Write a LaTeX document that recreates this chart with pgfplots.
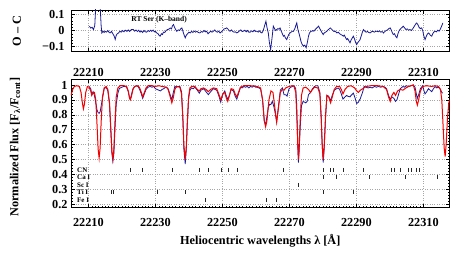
\documentclass[border=0pt]{standalone}
\usepackage{fontspec}
\setmainfont{Liberation Serif}
\usepackage{pgfplots}
\pgfplotsset{compat=1.18}
\definecolor{obsblue}{RGB}{25,25,150}
\definecolor{modred}{RGB}{245,0,0}
\pgfplotsset{
  common/.style={
    scale only axis, width=378.5bp,
    xmin=22204.8, xmax=22317.8,
    xtick={22210,22230,22250,22270,22290,22310},
    scaled x ticks=false,
    xticklabels={22210,22230,22250,22270,22290,22310},
    minor x tick num=19,
    tick align=inside,
    grid=major,
    major grid style={gray!70, dotted, line width=0.5pt},
    tick style={black, line width=0.5pt},
    major tick length=4bp, minor tick length=2bp,
    axis line style={line width=0.8pt},
    ticklabel style={font=\fontsize{12.3}{14}\selectfont\bfseries},
    label style={font=\fontsize{12.3}{14}\selectfont\bfseries},
    /pgf/number format/assume math mode=true,
    /pgf/number format/1000 sep={},
  },
  idmark/.style={only marks, mark=|, mark size=2bp, black!85, mark options={line width=0.4pt}},
}
\begin{document}
\begin{tikzpicture}[x=1bp,y=1bp]
% ---------------- bottom panel ----------------
\begin{axis}[common, at={(0,0)}, anchor=south west, height=128.7bp,
  ymin=0.177, ymax=1.04,
  ytick={0.2,0.3,0.4,0.5,0.6,0.7,0.8,0.9,1},
  minor y tick num=4,
  xticklabel style={yshift=-7bp},
  xlabel={Heliocentric wavelengths λ [Å]},
  ylabel={Normalized Flux [F\textsubscript{λ}/F\textsubscript{cont}]},
  xlabel style={at={(axis description cs:0.5,-0.255)}, anchor=center},
  ylabel style={at={(axis description cs:-0.148,0.471)}, anchor=center},
]
% observed spectrum
\addplot[obsblue, line width=0.8pt] coordinates {
(22210.2,0.99) (22210.7,0.975) (22211.0,0.935) (22211.4,0.955) (22211.8,0.93)
(22212.2,0.88) (22212.6,0.83) (22212.9,0.815) (22213.2,0.81) (22213.5,0.82)
(22213.8,0.86) (22214.2,0.91) (22214.7,0.975) (22215.3,0.985) (22215.8,0.96)
(22216.3,0.87) (22216.7,0.69) (22217.0,0.545) (22217.3,0.49) (22217.6,0.54)
(22217.9,0.69) (22218.3,0.87) (22218.8,0.945) (22219.2,0.975) (22219.5,0.98)
(22220.0,0.985) (22220.5,0.99) (22221.0,0.99) (22221.4,0.985) (22221.9,0.955)
(22222.3,0.91) (22222.5,0.905) (22222.8,0.93) (22223.3,0.975) (22223.8,0.99)
(22224.3,0.995) (22224.8,0.99) (22225.3,0.97) (22225.8,0.94) (22226.2,0.91)
(22226.7,0.94) (22227.2,0.97) (22227.8,0.985) (22228.4,0.99) (22229.0,0.985)
(22229.5,0.99) (22230.0,0.975) (22230.5,0.97) (22231.0,0.965) (22231.5,0.96)
(22232.0,0.97) (22232.5,0.975) (22233.0,0.985) (22233.3,0.985) (22233.8,0.975)
(22234.3,0.94) (22234.9,0.90) (22235.3,0.945) (22235.8,0.99) (22236.3,0.985)
(22236.8,0.99) (22237.3,0.99) (22237.8,0.955) (22238.2,0.77) (22238.5,0.57)
(22238.9,0.47) (22239.2,0.56) (22239.5,0.72) (22239.9,0.905) (22240.3,0.965)
(22240.8,0.98) (22241.3,0.975) (22241.8,0.985) (22242.5,0.965) (22243.1,0.945)
(22243.6,0.965) (22244.0,0.97) (22244.4,0.975) (22245.1,0.955) (22245.8,0.935)
(22246.5,0.955) (22246.9,0.965) (22247.3,0.975) (22247.8,0.97) (22248.3,0.965)
(22248.9,0.93) (22249.5,0.885) (22250.1,0.935) (22250.7,0.96) (22251.2,0.925)
(22251.6,0.905) (22252.1,0.93) (22252.6,0.97) (22253.3,0.96) (22253.8,0.925)
(22254.3,0.905) (22254.8,0.94) (22255.4,0.985) (22255.9,0.98) (22256.4,0.99)
(22256.9,0.985) (22257.4,0.99) (22257.9,0.98) (22258.4,0.99) (22258.9,0.985)
(22259.4,0.995) (22259.9,0.985) (22260.4,0.985) (22260.9,0.98) (22261.4,0.975)
(22262.0,0.90) (22262.5,0.76) (22262.9,0.73) (22263.3,0.79) (22263.7,0.85)
(22264.1,0.87) (22264.5,0.87) (22264.9,0.89) (22265.3,0.86) (22265.7,0.82)
(22266.2,0.755) (22266.7,0.85) (22267.3,0.965) (22267.9,0.98) (22268.4,0.935)
(22268.9,0.935) (22269.3,0.925) (22269.9,0.975) (22270.4,0.985) (22270.9,0.99)
(22271.4,0.995) (22271.9,0.975) (22272.2,0.86) (22272.4,0.66) (22272.7,0.48)
(22272.9,0.55) (22273.2,0.70) (22273.6,0.86) (22274.1,0.89) (22274.5,0.885)
(22274.9,0.88) (22275.3,0.89) (22275.7,0.935) (22276.3,0.95) (22276.9,0.975)
(22277.5,0.99) (22278.0,0.995) (22278.5,0.995) (22279.1,0.95) (22279.5,0.78)
(22279.8,0.59) (22280.1,0.48) (22280.4,0.575) (22280.8,0.78) (22281.2,0.93)
(22281.7,0.925) (22282.3,0.895) (22282.8,0.93) (22283.4,0.965) (22284.1,0.975)
(22284.6,0.98) (22285.0,0.97) (22285.5,0.94) (22286.0,0.905) (22286.6,0.92)
(22287.1,0.93) (22287.4,0.925) (22288.1,0.92) (22288.4,0.93) (22289.1,0.945)
(22289.5,0.92) (22290.1,0.875) (22290.6,0.885) (22291.2,0.91) (22291.9,0.955)
(22292.3,0.99) (22292.9,0.985) (22293.5,0.98) (22294.1,0.985) (22294.7,0.98)
(22295.4,0.99) (22296.0,0.985) (22296.6,0.99) (22297.3,0.985) (22298.0,0.99)
(22298.5,0.985) (22299.0,0.975) (22299.6,0.93) (22300.1,0.905) (22300.6,0.92)
(22301.2,0.91) (22301.7,0.89) (22302.1,0.90) (22302.5,0.93) (22303.1,0.975)
(22303.9,0.99) (22304.4,0.985) (22304.8,0.995) (22305.6,0.99) (22306.3,0.995)
(22307.0,1.0) (22307.5,0.985) (22307.9,0.94) (22308.2,0.91) (22308.6,0.935)
(22309.1,0.975) (22309.8,0.995) (22310.2,0.96) (22310.5,0.94) (22311.0,0.955)
(22311.5,0.975) (22312.0,0.965) (22312.5,0.955) (22313.0,0.975) (22313.5,0.99)
(22314.0,0.98) (22314.5,0.985) (22315.1,0.97) (22315.5,0.95) (22315.8,0.945)
};
% model spectrum
\addplot[modred, line width=1pt] coordinates {
(22204.8,0.93) (22205.3,0.97) (22205.8,0.99) (22206.5,0.995) (22207.3,0.99)
(22207.8,0.95) (22208.2,0.88) (22208.5,0.84) (22208.8,0.87) (22209.2,0.95)
(22209.7,0.99) (22210.2,0.985) (22210.7,0.96) (22211.0,0.93) (22211.4,0.95)
(22211.8,0.95) (22212.2,0.90) (22212.6,0.72) (22212.9,0.57) (22213.2,0.51)
(22213.5,0.58) (22213.8,0.75) (22214.2,0.92) (22214.7,0.98) (22215.3,0.99)
(22215.8,0.97) (22216.3,0.88) (22216.7,0.70) (22217.0,0.56) (22217.3,0.50)
(22217.6,0.57) (22217.9,0.74) (22218.3,0.92) (22218.8,0.98) (22219.5,0.995)
(22220.5,0.995) (22221.4,0.99) (22221.9,0.96) (22222.3,0.91) (22222.5,0.90)
(22222.8,0.92) (22223.3,0.97) (22223.8,0.99) (22224.8,0.995) (22225.3,0.98)
(22225.8,0.95) (22226.2,0.92) (22226.7,0.95) (22227.2,0.98) (22227.8,0.995)
(22229.0,0.995) (22230.0,0.99) (22231.0,0.995) (22232.0,0.99) (22233.3,0.985)
(22233.8,0.97) (22234.3,0.93) (22234.9,0.88) (22235.3,0.91) (22235.8,0.97)
(22236.3,0.99) (22237.3,0.985) (22237.8,0.94) (22238.2,0.78) (22238.5,0.60)
(22238.9,0.50) (22239.2,0.58) (22239.5,0.74) (22239.9,0.92) (22240.3,0.98)
(22240.8,0.99) (22241.8,0.99) (22242.5,0.97) (22243.1,0.96) (22243.6,0.975)
(22244.4,0.98) (22245.1,0.97) (22245.8,0.955) (22246.5,0.97) (22247.3,0.98)
(22248.3,0.975) (22248.9,0.94) (22249.5,0.90) (22250.1,0.94) (22250.7,0.95)
(22251.2,0.91) (22251.6,0.89) (22252.1,0.93) (22252.6,0.975) (22253.3,0.97)
(22253.8,0.94) (22254.3,0.92) (22254.8,0.95) (22255.4,0.985) (22256.4,0.995)
(22258.4,0.995) (22260.4,0.99) (22261.4,0.98) (22262.0,0.90) (22262.5,0.76)
(22262.9,0.72) (22263.3,0.76) (22263.9,0.90) (22264.5,0.96) (22265.1,0.95)
(22265.7,0.84) (22266.2,0.75) (22266.7,0.84) (22267.3,0.95) (22267.9,0.97)
(22268.4,0.965) (22268.9,0.98) (22269.9,0.99) (22270.9,0.995) (22271.4,0.99)
(22271.9,0.95) (22272.3,0.75) (22272.5,0.60) (22272.7,0.50) (22272.9,0.58)
(22273.2,0.75) (22273.6,0.93) (22274.1,0.98) (22274.9,0.985) (22275.7,0.97)
(22276.3,0.95) (22276.9,0.97) (22277.5,0.985) (22278.5,0.98) (22279.1,0.94)
(22279.5,0.78) (22279.8,0.60) (22280.1,0.50) (22280.4,0.60) (22280.8,0.80)
(22281.2,0.93) (22281.7,0.92) (22282.3,0.88) (22282.8,0.92) (22283.4,0.97)
(22284.1,0.99) (22285.0,0.99) (22285.5,0.97) (22286.0,0.94) (22286.6,0.97)
(22287.4,0.99) (22288.4,0.995) (22289.5,0.98) (22290.1,0.96) (22290.6,0.95)
(22291.2,0.965) (22291.9,0.975) (22292.9,0.99) (22294.4,0.995) (22296.4,0.995)
(22298.0,0.99) (22299.0,0.97) (22299.6,0.92) (22300.1,0.89) (22300.6,0.93)
(22301.2,0.95) (22301.7,0.93) (22302.3,0.96) (22303.1,0.97) (22303.9,0.965)
(22304.8,0.98) (22305.6,0.99) (22306.3,0.995) (22307.0,1.00) (22307.5,0.96)
(22307.9,0.89) (22308.2,0.865) (22308.6,0.90) (22309.1,0.96) (22309.8,0.99)
(22311.0,0.995) (22312.5,0.99) (22313.5,0.995) (22314.5,0.99) (22315.1,0.97)
(22315.5,0.90) (22315.9,0.72) (22316.2,0.58) (22316.5,0.52) (22316.8,0.60)
(22317.2,0.78) (22317.6,0.88) (22317.8,0.90)
};
% line identifications
\addplot[idmark] coordinates {
(22222.45,0.43) (22226.2,0.43) (22234.9,0.43) (22243.0,0.43) (22245.8,0.43)
(22249.5,0.43) (22251.7,0.43) (22254.3,0.43) (22268.2,0.43) (22280.0,0.43)
(22282.2,0.43) (22283.0,0.43) (22286.1,0.43) (22291.9,0.43) (22300.3,0.43)
(22301.3,0.43) (22303.1,0.43) (22305.5,0.43) (22306.5,0.43) (22308.0,0.43)
(22308.7,0.43)
};
\addplot[idmark] coordinates {
(22280.1,0.38) (22283.9,0.38) (22293.9,0.38) (22304.5,0.38) (22314.2,0.38)
};
\addplot[idmark] coordinates {
(22272.7,0.33)
};
\addplot[idmark] coordinates {
(22216.8,0.28) (22217.3,0.28) (22230.4,0.28) (22238.9,0.28) (22280.1,0.28)
(22289.1,0.28)
};
\addplot[idmark] coordinates {
(22245.0,0.23) (22263.2,0.23) (22266.2,0.23)
};
\begin{scope}[every node/.style={anchor=west, inner sep=0pt, font=\fontsize{7}{8}\selectfont\bfseries}]
\node at (axis cs:22206.6,0.43) {CN};
\node at (axis cs:22206.6,0.38) {Ca I};
\node at (axis cs:22206.6,0.33) {Sc I};
\node at (axis cs:22206.6,0.28) {Ti I};
\node at (axis cs:22206.6,0.23) {Fe I};
\end{scope}
\end{axis}
% ---------------- top panel ----------------
\begin{axis}[common, at={(0,156bp)}, anchor=south west, height=41.7bp,
  ymin=-0.131, ymax=0.127,
  ytick={-0.1,0,0.1}, yticklabels={−0.1,0,0.1},
  minor y tick num=4,
  xticklabel style={yshift=-13bp},
  yticklabel style={xshift=-3bp},
  ylabel={O – C},
  ylabel style={at={(axis description cs:-0.143,0.5)}, anchor=center},
]
\addplot[obsblue, line width=0.8pt] coordinates {
(22210.3,0.027) (22210.7,0.015) (22211.1,0.020) (22211.5,0.006) (22211.9,0.03)
(22212.3,0.2) (22212.9,0.3) (22213.5,0.15) (22213.8,0.03) (22214.0,-0.015)
(22214.4,-0.005) (22214.7,-0.012) (22215.0,-0.005) (22215.4,-0.01) (22215.8,0.0)
(22216.2,-0.012) (22216.5,-0.015) (22216.9,-0.005) (22217.3,-0.02) (22217.7,-0.035)
(22218.0,-0.055) (22218.3,-0.03) (22218.6,-0.02) (22219.0,-0.015) (22219.4,-0.005)
(22219.8,-0.01) (22220.2,0.0) (22220.6,-0.008) (22221.0,0.002) (22221.5,-0.005)
(22221.9,0.004) (22222.3,-0.006) (22222.8,0.006) (22223.4,0.006) (22223.8,-0.004)
(22224.2,0.003) (22224.6,-0.006) (22225.0,0.002) (22225.4,-0.01) (22225.8,-0.003)
(22226.2,-0.012) (22226.6,0.0) (22227.0,-0.008) (22227.4,-0.01) (22227.8,0.0)
(22228.2,-0.006) (22228.6,0.002) (22228.9,-0.005) (22229.3,0.003) (22229.7,-0.008)
(22230.0,-0.005) (22230.4,-0.015) (22230.8,-0.02) (22231.1,-0.03) (22231.4,-0.035)
(22231.8,-0.02) (22232.1,-0.025) (22232.4,-0.01) (22232.8,-0.012) (22233.2,0.0)
(22233.6,0.006) (22234.0,0.008) (22234.4,0.016) (22234.8,0.01) (22235.1,0.03)
(22235.4,0.037) (22235.7,0.02) (22236.0,0.008) (22236.4,-0.005) (22236.8,0.004)
(22237.2,0.0) (22237.6,0.012) (22237.9,0.016) (22238.3,-0.01) (22238.6,-0.03)
(22238.9,-0.045) (22239.2,-0.03) (22239.6,-0.02) (22240.0,-0.01) (22240.4,-0.015)
(22240.8,-0.005) (22241.2,-0.012) (22241.6,-0.004) (22242.0,-0.01) (22242.4,-0.005)
(22242.8,-0.012) (22243.3,-0.015) (22243.7,-0.006) (22244.1,-0.01) (22244.5,0.0)
(22244.9,-0.008) (22245.3,-0.005) (22245.7,-0.02) (22246.1,-0.012) (22246.5,-0.004)
(22246.9,-0.01) (22247.3,-0.005) (22247.7,0.004) (22248.1,-0.006) (22248.5,-0.01)
(22248.9,-0.004) (22249.3,-0.015) (22249.7,-0.008) (22250.1,0.0) (22250.5,0.01)
(22250.9,0.012) (22251.3,0.016) (22251.7,0.008) (22252.0,-0.002) (22252.3,-0.004)
(22252.7,0.004) (22253.1,-0.006) (22253.5,-0.01) (22253.9,-0.008) (22254.3,-0.015)
(22254.7,-0.01) (22255.1,-0.002) (22255.5,0.004) (22255.9,-0.006) (22256.3,-0.004)
(22256.7,0.002) (22257.1,-0.008) (22257.5,0.0) (22257.9,-0.01) (22258.3,-0.01)
(22258.7,-0.002) (22259.1,-0.008) (22259.5,0.002) (22259.9,-0.006) (22260.3,-0.004)
(22260.7,-0.01) (22261.1,-0.002) (22261.5,-0.012) (22261.8,-0.015) (22262.2,0.0)
(22262.6,0.03) (22263.0,0.058) (22263.3,0.02) (22263.7,-0.015) (22264.0,-0.07)
(22264.4,-0.118) (22264.8,-0.05) (22265.2,0.027) (22265.6,0.01) (22265.9,0.0)
(22266.2,0.006) (22266.6,0.012) (22266.9,0.008) (22267.2,0.016) (22267.5,0.0)
(22267.8,-0.015) (22268.2,-0.035) (22268.5,-0.03) (22268.8,-0.045) (22269.2,-0.056)
(22269.5,-0.04) (22269.8,-0.025) (22270.2,-0.015) (22270.5,-0.01) (22270.9,-0.004)
(22271.2,-0.005) (22271.6,0.01) (22271.9,0.03) (22272.2,0.047) (22272.5,0.01)
(22272.9,-0.02) (22273.2,-0.045) (22273.5,-0.07) (22273.8,-0.085) (22274.2,-0.097)
(22274.6,-0.09) (22275.0,-0.107) (22275.4,-0.07) (22275.7,-0.035) (22276.0,-0.015)
(22276.4,-0.004) (22276.7,-0.005) (22277.0,0.0) (22277.3,-0.004) (22277.7,0.006)
(22278.0,0.012) (22278.4,0.02) (22278.7,0.027) (22279.0,0.015) (22279.4,0.0)
(22279.7,-0.012) (22280.1,-0.025) (22280.4,-0.015) (22280.8,-0.01) (22281.2,-0.004)
(22281.5,0.004) (22281.9,0.01) (22282.2,0.016) (22282.6,0.008) (22282.9,0.002)
(22283.3,-0.006) (22283.7,-0.004) (22284.2,-0.015) (22284.6,-0.01) (22285.0,-0.02)
(22285.4,-0.025) (22285.8,-0.03) (22286.1,-0.035) (22286.4,-0.028) (22286.8,-0.045)
(22287.1,-0.056) (22287.4,-0.05) (22287.8,-0.065) (22288.1,-0.076) (22288.4,-0.06)
(22288.8,-0.045) (22289.1,-0.035) (22289.4,-0.05) (22289.8,-0.075) (22290.1,-0.087)
(22290.4,-0.075) (22290.8,-0.065) (22291.1,-0.056) (22291.5,-0.03) (22291.8,-0.01)
(22292.1,0.006) (22292.5,-0.004) (22292.9,-0.01) (22293.3,-0.006) (22293.7,-0.012)
(22294.1,-0.015) (22294.5,-0.008) (22294.9,-0.004) (22295.3,-0.01) (22295.7,-0.006)
(22296.1,-0.004) (22296.5,-0.008) (22296.9,-0.002) (22297.3,-0.01) (22297.7,-0.006)
(22298.1,-0.015) (22298.5,-0.006) (22298.9,0.0) (22299.3,0.004) (22299.7,0.012)
(22300.1,0.016) (22300.4,0.004) (22300.7,-0.012) (22301.0,-0.025) (22301.4,-0.02)
(22301.7,-0.035) (22302.1,-0.045) (22302.4,-0.02) (22302.7,-0.004) (22303.0,0.006)
(22303.4,0.015) (22303.7,0.02) (22304.0,0.027) (22304.4,0.016) (22304.8,0.006)
(22305.2,0.01) (22305.6,0.002) (22306.0,0.006) (22306.4,0.0) (22306.8,0.01)
(22307.1,0.02) (22307.4,0.03) (22307.7,0.04) (22308.0,0.047) (22308.4,0.035)
(22308.7,0.02) (22309.1,0.012) (22309.5,0.016) (22309.8,0.0) (22310.1,-0.03)
(22310.5,-0.056) (22310.8,-0.04) (22311.1,-0.025) (22311.5,-0.015) (22311.8,-0.02)
(22312.1,-0.03) (22312.5,-0.035) (22312.8,-0.02) (22313.1,-0.01) (22313.5,-0.004)
(22313.9,-0.008) (22314.3,0.002) (22314.7,-0.004) (22315.0,0.006) (22315.3,0.02)
(22315.6,0.035) (22315.8,0.047)
};
\node[font=\fontsize{7.5}{8}\selectfont\bfseries, inner sep=0pt] at (axis cs:22231.1,0.068) {RT Ser (K–band)};
\end{axis}
\pgfresetboundingbox
\path[use as bounding box] (-71bp,-48.3bp) rectangle (387bp,207.7bp);
\end{tikzpicture}
\end{document}
